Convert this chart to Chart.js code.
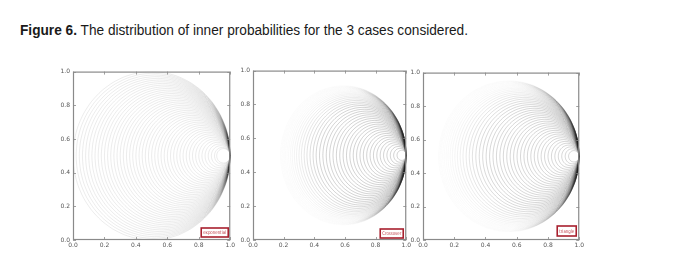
<!DOCTYPE html>
<html><head><meta charset="utf-8">
<script src="https://cdn.jsdelivr.net/npm/chart.js@4.4.1/dist/chart.umd.min.js"></script>
<style>
html,body{margin:0;padding:0;background:#fff;width:696px;height:261px;overflow:hidden;position:relative;}
#title{position:absolute;left:20px;top:23px;font-family:"Liberation Sans",Arial,sans-serif;font-size:14px;line-height:14px;color:#1a1a1a;white-space:nowrap;transform-origin:0 0;}
canvas{position:absolute;}
</style></head><body>
<div id="title"><b>Figure 6.</b> The distribution of inner probabilities for the 3 cases considered.</div>
<canvas id="c1"></canvas>
<canvas id="c2"></canvas>
<canvas id="c3"></canvas>
<script>
// ---- data ----
const tickValues = [0, 0.2, 0.4, 0.6, 0.8, 1.0];
const tickLabels = ['0.0', '0.2', '0.4', '0.6', '0.8', '1.0'];
const caseNames = ['exponential', 'Crossover', 'triangle'];
const tangentPoint = [1.0, 0.5];   // all curves meet here
// radius of each curve (curves are circles tangent at the right-hand point)
const radiiExponential = [0.500,0.490,0.480,0.470,0.460,0.450,0.440,0.430,0.420,0.410,0.400,0.390,0.380,0.370,0.360,0.350,0.340,0.330,0.320,0.310,0.300,0.290,0.280,0.270,0.260,0.250,0.240,0.230,0.220,0.210,0.200,0.190,0.180,0.170,0.160,0.150,0.140,0.130,0.120,0.110,0.100,0.090,0.080,0.070,0.060,0.050,0.043];
const radiiCrossover = [0.410,0.406,0.402,0.398,0.394,0.389,0.384,0.378,0.372,0.365,0.358,0.350,0.342,0.333,0.324,0.314,0.304,0.294,0.283,0.272,0.261,0.250,0.239,0.228,0.217,0.206,0.195,0.184,0.173,0.162,0.151,0.140,0.129,0.118,0.107,0.096,0.085,0.074,0.063,0.052,0.041,0.030];
const radiiTriangle = [0.450,0.446,0.442,0.437,0.432,0.426,0.420,0.413,0.406,0.398,0.390,0.381,0.372,0.362,0.352,0.342,0.331,0.320,0.309,0.298,0.287,0.276,0.265,0.254,0.243,0.232,0.221,0.210,0.199,0.188,0.177,0.166,0.155,0.144,0.133,0.122,0.111,0.100,0.089,0.078,0.067,0.056,0.045,0.034];
const arcAnglesDeg = [0,10,20,30,40,50,60,70,80,90,100,110,120,130,140,150,160,170,180,190,200,210,220,230,240,250,260,270,280,290,300,310,320,330,340,350,360];

// ---- helpers ----
function circleData(r) {
  const cx = tangentPoint[0] - r, cy = tangentPoint[1];
  return arcAnglesDeg.map(d => ({ x: cx + r * Math.cos(d * Math.PI / 180), y: cy + r * Math.sin(d * Math.PI / 180) }));
}
function ss(a, b, v) { let t = Math.min(1, Math.max(0, (v - a) / (b - a))); return t * t * (3 - 2 * t); }

// line darkness (style only): phi = angle round the circle, 0 at the tangent point
const shades = [
  (r, phi) => 0.12 + 0.06 * (1 - ss(0, 90, phi)),
  (r, phi) => { const base = 0.26 * (1 - ss(0.27, 0.40, r)) + 0.02; return base + (0.36 - base) * (1 - ss(30, 88, phi)); },
  (r, phi) => { const base = 0.23 * (1 - ss(0.29, 0.44, r)) + 0.02; return base + (0.32 - base) * (1 - ss(30, 92, phi)); }
];

const panels = [
  { id: 'c1', radii: radiiExponential, name: caseNames[0], plot: { l: 73, t: 71, w: 160, h: 169 }, box: { w: 27, h: 9, mr: 2, mb: 3 } },
  { id: 'c2', radii: radiiCrossover,   name: caseNames[1], plot: { l: 253, t: 70, w: 156, h: 170 }, box: { w: 23, h: 9, mr: 3, mb: 2 } },
  { id: 'c3', radii: radiiTriangle,    name: caseNames[2], plot: { l: 423, t: 72, w: 159, h: 168 }, box: { w: 19, h: 10, mr: 3, mb: 4 } }
];

const Y_W = 25, X_H = 16, PAD_T = 6, PAD_R = 4;

const framePlugin = {
  id: 'frame',
  afterDatasetsDraw(chart) {
    const { ctx, chartArea: a, scales } = chart;
    const x = scales.x, y = scales.y;
    ctx.save();
    ctx.strokeStyle = '#8a8a8a';
    ctx.lineWidth = 1.2;
    ctx.strokeRect(a.left + 0.5, a.top + 0.5, a.right - a.left - 1, a.bottom - a.top - 1);
    ctx.lineWidth = 0.8;
    ctx.beginPath();
    tickValues.forEach(v => {
      const px = Math.round(x.getPixelForValue(v)) + 0.5;
      ctx.moveTo(px, a.bottom); ctx.lineTo(px, a.bottom - 3);
      ctx.moveTo(px, a.top); ctx.lineTo(px, a.top + 3);
      const py = Math.round(y.getPixelForValue(v)) + 0.5;
      ctx.moveTo(a.left, py); ctx.lineTo(a.left + 3, py);
      ctx.moveTo(a.right, py); ctx.lineTo(a.right - 3, py);
    });
    ctx.stroke();
    const b = chart.options.plugins.caseBox;
    if (b) {
      const bx = a.right - b.mr - b.w, by = a.bottom - b.mb - b.h;
      ctx.fillStyle = '#fff';
      ctx.fillRect(bx, by, b.w, b.h);
      ctx.strokeStyle = '#a8202e';
      ctx.lineWidth = 1.6;
      ctx.strokeRect(bx, by, b.w, b.h);
      ctx.fillStyle = '#c0404a';
      ctx.font = '5px "DejaVu Sans", sans-serif';
      ctx.textAlign = 'center';
      ctx.textBaseline = 'middle';
      ctx.fillText(b.text, bx + b.w / 2, by + b.h / 2 + 0.5, b.w - 4);
    }
    ctx.restore();
  }
};

panels.forEach((p, pi) => {
  const cv = document.getElementById(p.id);
  const W = p.plot.w + Y_W + PAD_R, H = p.plot.h + PAD_T + X_H;
  cv.width = W; cv.height = H;
  cv.style.width = W + 'px'; cv.style.height = H + 'px';
  cv.style.left = (p.plot.l - Y_W) + 'px';
  cv.style.top = (p.plot.t - PAD_T) + 'px';
  const shade = shades[pi];
  const cache = {};
  function colourFor(chart, r) {
    const area = chart.chartArea;
    if (!area) return 'rgba(30,30,30,0.12)';
    const key = r + '|' + area.left + ',' + area.top + ',' + area.right + ',' + area.bottom;
    if (cache[key]) return cache[key];
    const sx = chart.scales.x, sy = chart.scales.y;
    const cxp = sx.getPixelForValue(tangentPoint[0] - r), cyp = sy.getPixelForValue(tangentPoint[1]);
    const g = chart.ctx.createConicGradient(0, cxp, cyp);
    for (let k = 0; k <= 36; k++) {
      const a = k * 10, phi = Math.min(a, 360 - a);
      g.addColorStop(k / 36, 'rgba(30,30,30,' + shade(r, phi).toFixed(3) + ')');
    }
    cache[key] = g;
    return g;
  }
  const datasets = p.radii.map(r => ({
    data: circleData(r),
    showLine: true,
    pointRadius: 0,
    borderWidth: 0.7,
    tension: 0.25,
    borderColor: c => colourFor(c.chart, r)
  }));
  const tickFont = { family: '"DejaVu Sans", sans-serif', size: 6 };
  new Chart(cv, {
    type: 'scatter',
    data: { datasets },
    options: {
      responsive: false,
      animation: false,
      events: [],
      layout: { padding: { top: PAD_T, right: PAD_R, left: 0, bottom: 0 } },
      plugins: {
        legend: { display: false },
        tooltip: { enabled: false },
        caseBox: Object.assign({ text: p.name }, p.box)
      },
      scales: {
        x: {
          type: 'linear', min: 0, max: 1,
          afterFit: s => { s.height = X_H; },
          afterBuildTicks: s => { s.ticks = tickValues.map(v => ({ value: v })); },
          grid: { display: false, drawTicks: false },
          border: { display: false },
          ticks: { font: tickFont, color: '#555', padding: 2, maxRotation: 0, autoSkip: false,
                   callback: (v, i) => tickLabels[i] }
        },
        y: {
          type: 'linear', min: 0, max: 1,
          afterFit: s => { s.width = Y_W; },
          afterBuildTicks: s => { s.ticks = tickValues.map(v => ({ value: v })); },
          grid: { display: false, drawTicks: false },
          border: { display: false },
          ticks: { font: tickFont, color: '#555', padding: 3, autoSkip: false,
                   callback: (v, i) => tickLabels[i] }
        }
      }
    },
    plugins: [framePlugin]
  });
});

// fit title width to the reference
const t = document.getElementById('title');
const w = t.getBoundingClientRect().width;
if (w > 0) t.style.transform = 'scaleX(' + (448 / w).toFixed(4) + ')';
</script>
</body></html>
